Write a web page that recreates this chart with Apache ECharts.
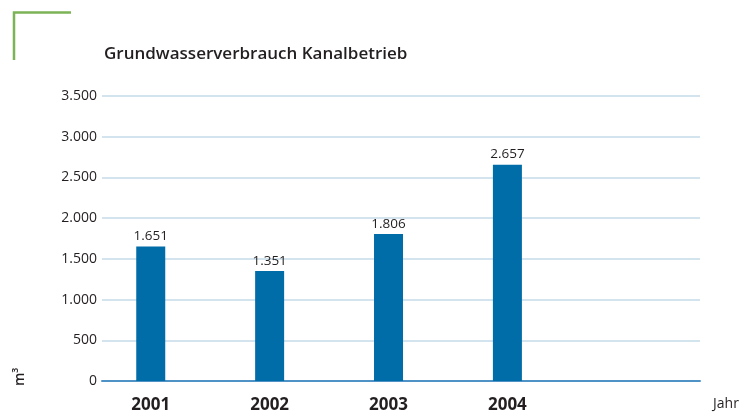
<!DOCTYPE html>
<html lang="de">
<head>
    <meta charset="UTF-8">
    <title>Grundwasserverbrauch Kanalbetrieb</title>
    <script src="https://cdn.jsdelivr.net/npm/echarts/dist/echarts.min.js"></script>
    <style>
        html, body { margin: 0; padding: 0; background: #fff; }
        #chart { width: 746px; height: 417px; }
    </style>
</head>
<body>
    <div id="chart"></div>
    <script>
        // Daten
        const years = [2001, 2002, 2003, 2004];
        const verbrauch = [1651, 1351, 1806, 2657];
        const yTicks = [0, 500, 1000, 1500, 2000, 2500, 3000, 3500];

        const fmt = v => String(v).replace(/\B(?=(\d{3})+(?!\d))/g, '.');
        const font = '"Open Sans", sans-serif';

        const chart = echarts.init(document.getElementById('chart'));
        chart.setOption({
            animation: false,
            title: {
                text: 'Grundwasserverbrauch Kanalbetrieb',
                left: 99, top: 41,
                textStyle: { fontFamily: font, fontSize: 17, fontWeight: 600, color: '#231f20' }
            },
            grid: { left: 102, right: 46, top: 96, bottom: 36, outerBoundsMode: 'none' },
            xAxis: {
                type: 'value',
                min: 2000.59, max: 2005.62,
                name: 'Jahr',
                nameLocation: 'end',
                nameGap: 13,
                nameTextStyle: { fontFamily: font, fontSize: 14, color: '#231f20', verticalAlign: 'top', padding: [16, 0, 0, 0] },
                splitLine: { show: false },
                axisTick: { show: false },
                axisLine: { lineStyle: { color: '#4f93c6', width: 2 } },
                axisLabel: {
                    customValues: years,
                    formatter: v => String(v),
                    margin: 16,
                    fontFamily: font, fontSize: 17, fontWeight: 'bold', color: '#231f20'
                }
            },
            yAxis: {
                type: 'value',
                min: yTicks[0], max: yTicks[yTicks.length - 1], interval: 500,
                axisLine: { show: false },
                axisTick: { show: false },
                splitLine: { lineStyle: { color: '#c6dbea', width: 1.5 } },
                axisLabel: {
                    margin: 5,
                    formatter: v => fmt(v),
                    fontFamily: font, fontSize: 14, color: '#231f20'
                }
            },
            series: [{
                type: 'bar',
                barWidth: 29,
                data: years.map((y, i) => [y, verbrauch[i]]),
                itemStyle: { color: '#006ca8' },
                label: {
                    show: true, position: 'top', distance: 3,
                    formatter: p => fmt(p.value[1]),
                    fontFamily: font, fontSize: 13.5, color: '#231f20'
                },
                z: 3
            }],
            graphic: [
                {
                    type: 'polyline',
                    shape: { points: [[14, 60], [14, 12.5], [71, 12.5]] },
                    style: { stroke: '#7cb356', lineWidth: 2.5, fill: null }
                },
                {
                    type: 'text',
                    x: 13, y: 386, rotation: Math.PI / 2,
                    style: { text: 'm³', fontFamily: font, fontSize: 14, fontWeight: 600, fill: '#231f20' }
                }
            ]
        });
    </script>
</body>
</html>
